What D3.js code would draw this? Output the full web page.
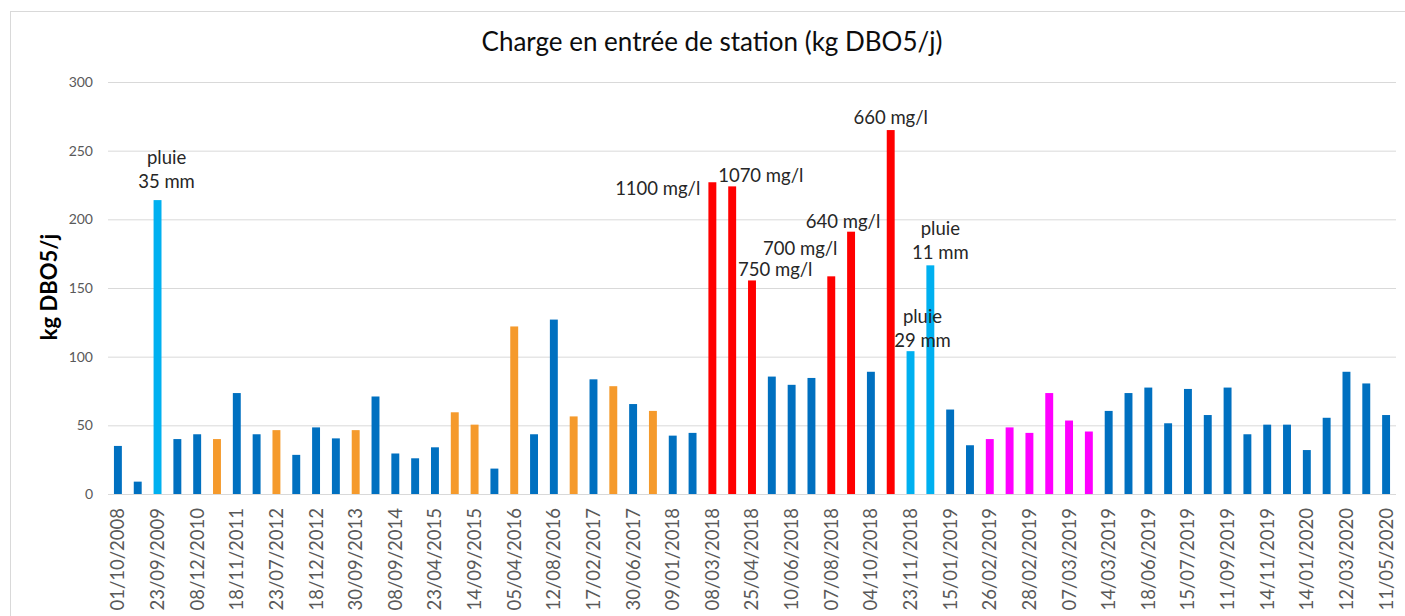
<!DOCTYPE html>
<html lang="fr">
<head>
<meta charset="utf-8">
<script src="https://cdn.jsdelivr.net/npm/d3@7/dist/d3.min.js"></script>
<style>
  html, body { margin: 0; padding: 0; background: #ffffff; }
  svg { display: block; font-family: Lato, "Open Sans", sans-serif; }
</style>
</head>
<body>
<svg id="chart" width="1405" height="616"></svg>
<script>
// Dates shown under every other bar
const tickDates = [
  "01/10/2008", "23/09/2009", "08/12/2010", "18/11/2011", "23/07/2012",
  "18/12/2012", "30/09/2013", "08/09/2014", "23/04/2015", "14/09/2015",
  "05/04/2016", "12/08/2016", "17/02/2017", "30/06/2017", "09/01/2018",
  "08/03/2018", "25/04/2018", "10/06/2018", "07/08/2018", "04/10/2018",
  "23/11/2018", "15/01/2019", "26/02/2019", "28/02/2019", "07/03/2019",
  "14/03/2019", "18/06/2019", "15/07/2019", "11/09/2019", "14/11/2019",
  "14/01/2020", "12/03/2020", "11/05/2020"
];

// Load per sample (kg DBO5/j), one value per bar
const loads = [
  35, 9, 214, 40, 43.5, 40, 73.5, 43.5, 46.5, 28.5,
  48.5, 40.5, 46.5, 71, 29.5, 26, 34, 59.5, 50.5, 18.5,
  122, 43.5, 127, 56.5, 83.5, 78.5, 65.5, 60.5, 42.5, 44.5,
  227, 224, 155.5, 85.5, 79.5, 84.5, 158.5, 191, 89, 265,
  104, 166.5, 61.5, 35.5, 40, 48.5, 44.5, 73.5, 53.5, 45.5,
  60.5, 73.5, 77.5, 51.5, 76.5, 57.5, 77.5, 43.5, 50.5, 50.5,
  32, 55.5, 89, 80.5, 57.5
];

// Sample group for each bar: b = standard, p = rain event, o, r = high concentration, m
const groups = [
  "b","b","p","b","b","o","b","b","o","b",
  "b","b","o","b","b","b","b","o","o","b",
  "o","b","b","o","b","o","b","o","b","b",
  "r","r","r","b","b","b","r","r","b","r",
  "p","p","b","b","m","m","m","m","m","m",
  "b","b","b","b","b","b","b","b","b","b",
  "b","b","b","b","b"
];

const yTicks = [0, 50, 100, 150, 200, 250, 300];

// Annotations: bar index and text lines
const notes = [
  { bar: 2,  lines: ["pluie", "35 mm"] },
  { bar: 30, lines: ["1100 mg/l"] },
  { bar: 31, lines: ["1070 mg/l"] },
  { bar: 32, lines: ["750 mg/l"] },
  { bar: 36, lines: ["700 mg/l"] },
  { bar: 37, lines: ["640 mg/l"] },
  { bar: 39, lines: ["660 mg/l"] },
  { bar: 40, lines: ["pluie", "29 mm"] },
  { bar: 41, lines: ["pluie", "11 mm"] }
];

// Placement of each annotation relative to the top centre of its bar
const noteLayout = {
  2:  { dx: 9,   dy: -12, anchor: "middle" },
  30: { dx: -12, dy: 13,  anchor: "end" },
  31: { dx: -14, dy: -4,  anchor: "start" },
  32: { dx: -14, dy: -4,  anchor: "start" },
  36: { dx: -31, dy: -21, anchor: "middle" },
  37: { dx: -8,  dy: -4,  anchor: "middle" },
  39: { dx: 0,   dy: -6,  anchor: "middle" },
  40: { dx: 12,  dy: -4,  anchor: "middle" },
  41: { dx: 10,  dy: -6,  anchor: "middle" }
};

const groupColor = {
  b: "#0070C0",
  p: "#00B0F0",
  o: "#F59A2C",
  r: "#FF0000",
  m: "#FF00FF"
};

const svg = d3.select("#chart");
const plot = { left: 108, right: 1396, top: 82, bottom: 494 };

// Chart frame
svg.append("rect")
  .attr("x", 10.5).attr("y", 11.5)
  .attr("width", 1420).attr("height", 640)
  .attr("fill", "none")
  .attr("stroke", "#d9d9d9");

const x = d3.scaleBand()
  .domain(d3.range(loads.length))
  .range([plot.left, plot.right])
  .paddingInner(0.6)
  .paddingOuter(0.3);

const y = d3.scaleLinear()
  .domain([0, 300])
  .range([plot.bottom, plot.top]);

// Horizontal grid + value labels
const yAxis = d3.axisLeft(y)
  .tickValues(yTicks)
  .tickSize(-(plot.right - plot.left))
  .tickPadding(15);

const gy = svg.append("g")
  .attr("transform", `translate(${plot.left},0)`)
  .call(yAxis);
gy.select(".domain").remove();
gy.selectAll(".tick line").attr("stroke", "#d9d9d9").attr("stroke-width", 1);
gy.selectAll(".tick text")
  .attr("fill", "#595959")
  .style("font-size", "14px")
  .style("font-family", "Lato, sans-serif");

// Bars
svg.append("g")
  .selectAll("rect")
  .data(loads)
  .join("rect")
  .attr("x", (d, i) => x(i))
  .attr("y", d => y(d))
  .attr("width", x.bandwidth())
  .attr("height", d => y(0) - y(d))
  .attr("fill", (d, i) => groupColor[groups[i]]);

// Category axis: one date under every other bar
const xAxis = d3.axisBottom(x)
  .tickValues(d3.range(0, loads.length, 2))
  .tickFormat(i => tickDates[i / 2])
  .tickSize(0)
  .tickPadding(0);

const gx = svg.append("g")
  .attr("transform", `translate(0,${plot.bottom})`)
  .call(xAxis);
gx.select(".domain")
  .attr("stroke", "#d9d9d9")
  .attr("d", `M${plot.left},0.5H${plot.right}`);
gx.selectAll(".tick text")
  .attr("transform", "rotate(-90)")
  .attr("text-anchor", "end")
  .attr("x", -14)
  .attr("y", 0)
  .attr("dy", "0.35em")
  .attr("fill", "#595959")
  .style("font-size", "18.5px")
  .style("font-family", "Lato, sans-serif");

// Title
svg.append("text")
  .attr("x", 712)
  .attr("y", 51)
  .attr("text-anchor", "middle")
  .attr("fill", "#0d0d0d")
  .style("font-size", "26px")
  .text("Charge en entrée de station (kg DBO5/j)");

// Value axis title
svg.append("text")
  .attr("transform", `translate(57,${(plot.top + plot.bottom) / 2 - 1}) rotate(-90)`)
  .attr("text-anchor", "middle")
  .attr("fill", "#000000")
  .style("font-size", "22px")
  .style("font-weight", "bold")
  .text("kg DBO5/j");

// Annotations
const noteG = svg.append("g")
  .style("font-size", "18.5px")
  .attr("fill", "#262626");

notes.forEach(n => {
  const lay = noteLayout[n.bar];
  const cx = x(n.bar) + x.bandwidth() / 2 + lay.dx;
  const baseY = y(loads[n.bar]) + lay.dy;
  const lineH = 24;
  const t = noteG.append("text")
    .attr("text-anchor", lay.anchor);
  n.lines.forEach((line, k) => {
    t.append("tspan")
      .attr("x", cx)
      .attr("y", baseY - (n.lines.length - 1 - k) * lineH)
      .text(line);
  });
});
</script>
</body>
</html>
